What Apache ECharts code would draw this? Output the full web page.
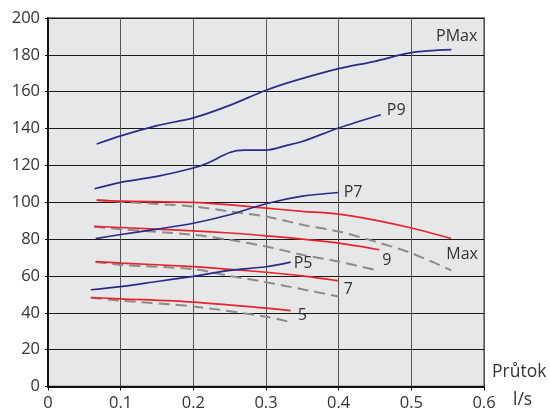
<!DOCTYPE html>
<html>
<head>
<meta charset="utf-8">
<script src="https://cdn.jsdelivr.net/npm/echarts@6/dist/echarts.min.js"></script>
<style>
  html, body { margin: 0; padding: 0; background: #fff; }
  #chart { width: 550px; height: 410px; }
</style>
</head>
<body>
<div id="chart"></div>
<script>
// pump curves, [flow l/s, value]
const pMax = [[0.067, 131.6], [0.1, 136], [0.15, 141.6], [0.2, 145.8], [0.25, 152.6], [0.3, 160.8], [0.34, 166], [0.4, 172.5], [0.45, 176.5], [0.5, 181.2], [0.555, 182.8]]
const p9 = [[0.064, 107.3], [0.1, 110.8], [0.15, 114], [0.2, 118.6], [0.22, 121.3], [0.25, 127], [0.27, 128.3], [0.3, 128.3], [0.33, 131], [0.35, 133], [0.4, 140.3], [0.458, 147.5]]
const p7 = [[0.0655, 80.3], [0.1, 82.5], [0.15, 85.4], [0.2, 88.6], [0.25, 93.2], [0.3, 99.2], [0.35, 103.3], [0.4, 105.3]]
const p5 = [[0.059, 52.5], [0.1, 54.2], [0.15, 57], [0.2, 59.8], [0.25, 63], [0.3, 65], [0.334, 67.5]]

const hMax = [[0.067, 101.2], [0.1, 100.6], [0.2, 99.9], [0.25, 98.6], [0.3, 96.8], [0.35, 95.1], [0.4, 93.6], [0.45, 90.3], [0.5, 86], [0.555, 80.3]]
const h9 = [[0.0635, 86.9], [0.1, 86.3], [0.2, 84.5], [0.25, 83.3], [0.3, 81.8], [0.4, 77.8], [0.456, 74.2]]
const h7 = [[0.0655, 67.8], [0.1, 67], [0.2, 65.1], [0.25, 63.6], [0.3, 62], [0.35, 60], [0.4, 57.3]]
const h5 = [[0.059, 48.3], [0.1, 47.6], [0.2, 45.8], [0.3, 42.5], [0.334, 41.2]]

const dMax = [[0.067, 101.2], [0.1, 100.3], [0.2, 97.7], [0.25, 95], [0.3, 92.3], [0.35, 87.8], [0.4, 84.1], [0.45, 78.7], [0.5, 72.4], [0.555, 63]]
const d9 = [[0.0635, 86.7], [0.1, 85.4], [0.2, 82.3], [0.25, 79.6], [0.3, 76], [0.35, 71.5], [0.4, 67.8], [0.456, 62.8]]
const d7 = [[0.0655, 67.6], [0.1, 66], [0.2, 63.7], [0.25, 60], [0.3, 56.6], [0.35, 52.8], [0.4, 48.8]]
const d5 = [[0.059, 48.2], [0.1, 46.6], [0.2, 43.4], [0.3, 37.9], [0.334, 34.9]]

const font = '"Open Sans", "Noto Sans", sans-serif'
const textColor = '#333'

function curve(data, color, label, offset, dashed, align) {
  return {
    type: 'line',
    data: data,
    smooth: 0.3,
    symbol: 'none',
    silent: true,
    animation: false,
    lineStyle: {
      color: color,
      width: dashed ? 2 : 1.7,
      type: dashed ? [11, 6] : 'solid'
    },
    endLabel: {
      show: !!label,
      formatter: label || '',
      distance: 0,
      align: align || 'left',
      offset: offset || [0, 0],
      color: textColor,
      fontFamily: font,
      fontSize: 16
    }
  }
}

const chart = echarts.init(document.getElementById('chart'))
chart.setOption({
  backgroundColor: '#fff',
  textStyle: { fontFamily: font },
  grid: {
    left: 48,
    right: 66,
    top: 18,
    bottom: 23.5,
    show: true,
    backgroundColor: '#e6e7e9',
    borderColor: '#8a8a8a',
    borderWidth: 2,
    outerBoundsMode: 'none'
  },
  xAxis: {
    type: 'value',
    min: 0,
    max: 0.6,
    interval: 0.1,
    name: 'Průtok',
    nameLocation: 'end',
    nameGap: 8,
    nameTextStyle: {
      color: textColor,
      fontFamily: font,
      fontSize: 17.5,
      align: 'left',
      verticalAlign: 'bottom',
      padding: [0, 0, 5, 0]
    },
    axisLine: { lineStyle: { color: '#111', width: 2 } },
    axisTick: { show: true, length: 4, lineStyle: { color: '#111' } },
    axisLabel: { color: textColor, fontSize: 16.5, margin: 8 },
    splitLine: { lineStyle: { color: '#555', width: 1 } }
  },
  yAxis: {
    type: 'value',
    min: 0,
    max: 200,
    interval: 20,
    axisLine: { show: true, lineStyle: { color: '#111', width: 2 } },
    axisTick: { show: true, length: 3, lineStyle: { color: '#111' } },
    axisLabel: { color: textColor, fontSize: 16.5, margin: 8 },
    splitLine: { lineStyle: { color: '#1a1a1a', width: 1 } }
  },
  graphic: [
    {
      type: 'text',
      left: 513,
      top: 391,
      style: { text: 'l/s', fill: textColor, font: '17.5px ' + font }
    }
  ],
  series: [
    curve(dMax, '#8c8c8c', 'Max', [-5, -16], true),
    curve(d9, '#8c8c8c', '9', [3, -10], true),
    curve(d7, '#8c8c8c', '7', [5, -7], true),
    curve(d5, '#8c8c8c', '5', [7, -7], true),
    curve(hMax, '#e8252b'),
    curve(h9, '#e8252b'),
    curve(h7, '#e8252b'),
    curve(h5, '#e8252b'),
    curve(pMax, '#2d2a8c', 'PMax', [26, -13], false, 'right'),
    curve(p9, '#2d2a8c', 'P9', [6, -4]),
    curve(p7, '#2d2a8c', 'P7', [5, 0]),
    curve(p5, '#2d2a8c', 'P5', [3, 1])
  ]
})
</script>
</body>
</html>
